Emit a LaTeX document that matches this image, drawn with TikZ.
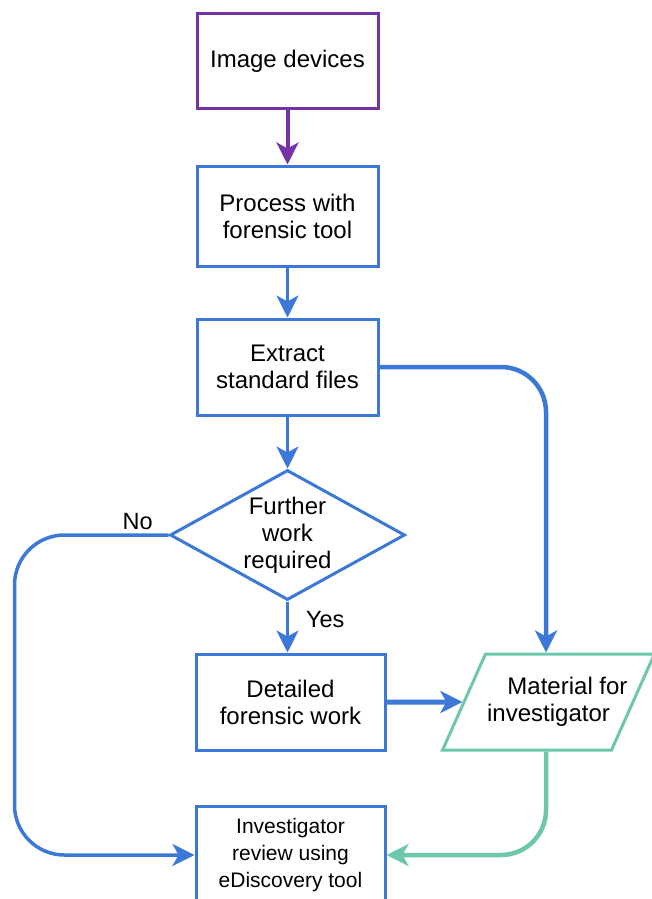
\documentclass[tikz,border=0pt]{standalone}
\usepackage{fontspec}
\setmainfont{Liberation Sans}
\usetikzlibrary{arrows.meta,shapes.geometric}
\definecolor{flowblue}{HTML}{3C78D8}
\definecolor{flowpurple}{HTML}{7434A8}
\definecolor{flowteal}{HTML}{6CC7AC}

\begin{document}
\begin{tikzpicture}[x=1pt, y=-1pt,
        box/.style={draw=flowblue, line width=3pt, minimum width=181pt,
            minimum height=96pt, inner sep=0pt, align=center,
            font=\fontsize{24}{27}\selectfont},
        startbox/.style={box, draw=flowpurple},
        decision/.style={box, shape=diamond, aspect=1.8,
            minimum width=235pt, minimum height=130pt},
        material/.style={box, draw=flowteal, shape=trapezium,
            trapezium left angle=49, trapezium right angle=131,
            trapezium stretches body=true, minimum width=150pt,
            inner xsep=-16pt},
        flow/.style={-{Stealth[length=22pt, width=22pt, inset=6pt]},
            line width=3pt, draw=flowblue},
        lbl/.style={font=\fontsize{23.5}{27}\selectfont, inner sep=0pt}
    ]
    \useasboundingbox (0,0) rectangle (651,899);

    % BOXES
    \node[startbox, minimum height=94pt] (devices) at (287.5, 61) {Image devices};
    \node[box, minimum height=100pt] (process) at (287.5, 216) {Process with\\forensic tool};
    \node[box] (extract) at (287.5, 367) {Extract\\standard files};
    \node[decision] (check) at (287.5, 535) {Further\\work\\required};
    \node[box, minimum width=189pt] (detailed) at (290.5, 702) {Detailed\\forensic work};
    \node[material] (mat) at (548.5, 702)
        {\hspace*{38pt}Material for\\investigator};
    \node[box, minimum width=189pt, minimum height=98pt,
        font=\fontsize{21}{27}\selectfont] (review) at (290.5, 855)
        {Investigator\\review using\\eDiscovery tool};

    % MAIN LINE
    \draw[flow, draw=flowpurple, line width=4pt] (devices) -- (process);
    \draw[flow] (process) -- (extract);
    \draw[flow] (extract) -- (check);
    \draw[flow] (check.south) --
        node[lbl, right=17pt, pos=0.35] {Yes} (check.south |- detailed.north);

    % SIDE BRANCHES
    \draw[flow, line width=3.5pt, rounded corners=50pt] (check.west) --
        node[lbl, above=4pt, pos=0.2] {No} ++(-154,0) |- (review.west);
    \draw[flow, line width=4.5pt, rounded corners=45pt] (extract.east) -|
        ([xshift=-2.5pt]mat.north);
    \draw[flow, line width=5pt] (detailed.east) -- (mat);
    \draw[flow, draw=flowteal, line width=4.5pt, rounded corners=45pt]
        ([xshift=-2.5pt]mat.south) |- (review.east);

\end{tikzpicture}
\end{document}
